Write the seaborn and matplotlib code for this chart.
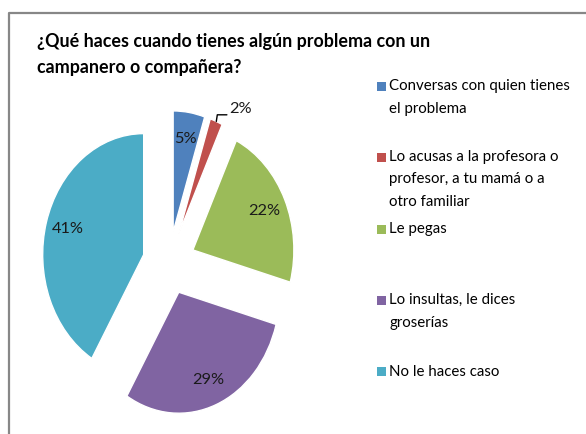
import matplotlib
matplotlib.use("Agg")
import matplotlib.pyplot as plt
from matplotlib.lines import Line2D
from matplotlib.patches import Rectangle
import numpy as np
import seaborn as sns

# =========================
# DATOS
# =========================

titulo = ["¿Qué haces cuando tienes algún problema con un",
          "campanero o compañera?"]

categorias = ["Conversas con quien tienes\nel problema",
              "Lo acusas a la profesora o\nprofesor, a tu mamá o a\notro familiar",
              "Le pegas",
              "Lo insultas, le dices\ngroserías",
              "No le haces caso"]

porcentajes = [5, 2, 22, 29, 41]

colores = ["#4F81BD", "#C0504D", "#9BBB59", "#8064A2", "#4BACC6"]

# =========================
# ESTILO
# =========================

sns.set_style("white")
plt.rcParams["font.family"] = ["Lato", "DejaVu Sans"]

W, H = 586, 434
fig = plt.figure(figsize=(W / 100, H / 100), dpi=100)
renderer = fig.canvas.get_renderer()


def fx(px):
    return px / W


def fy(py):
    return 1 - py / H


def ajustar(texto, ancho_px):
    # ajusta el tamaño de letra para que el texto ocupe el ancho del original
    ancho = texto.get_window_extent(renderer=renderer).width
    return texto.get_fontsize() * ancho_px / ancho


# marco gris del gráfico
fig.add_artist(Line2D([fx(9), fx(9), fx(600)], [fy(440), fy(12.5), fy(12.5)],
                      color="#878787", lw=1.6, transform=fig.transFigure))

# =========================
# TÍTULO
# =========================

t1 = fig.text(fx(37), fy(47.5), titulo[0], fontsize=13, fontweight="bold",
              va="baseline", ha="left", color="#000000")
t2 = fig.text(fx(37), fy(73), titulo[1], fontsize=13, fontweight="bold",
              va="baseline", ha="left", color="#000000")
tam_titulo = ajustar(t1, 392)
t1.set_fontsize(tam_titulo)
t2.set_fontsize(tam_titulo)

# =========================
# PASTEL
# =========================

# centro (169, 263) px; radio 101 px en x y 121 px en y
ax = fig.add_axes([fx(169 - 1.6 * 101), fy(263 + 1.4 * 121),
                   3.2 * 101 / W, 2.8 * 121 / H])

wedges, texts, autotexts = ax.pie(
    porcentajes,
    colors=sns.color_palette(colores),
    startangle=90,
    counterclock=False,
    explode=[0.26] * len(porcentajes),
    autopct="%1.0f%%",
    pctdistance=0.78,
    textprops={"fontsize": 12, "color": "#1a1a1a"},
)
ax.set_aspect("auto")
ax.set_xlim(-1.6, 1.6)
ax.set_ylim(-1.4, 1.4)
ax.axis("off")

tam_pct = ajustar(autotexts[4], 32)
for t in autotexts:
    t.set_fontsize(tam_pct)

# etiqueta del 2% fuera del sector, con línea guía
w = wedges[1]
m = np.deg2rad((w.theta1 + w.theta2) / 2)
x0 = w.center[0] + w.r * np.cos(m)
y0 = w.center[1] + w.r * np.sin(m)
x1, y1 = x0 + 0.01, y0 + 0.055
x2 = x1 + 0.095
ax.plot([x0, x1, x2], [y0, y1, y1], color="#000000", lw=1.0)
autotexts[1].set_position((x2 + 0.02, y1 + 0.045))
autotexts[1].set_ha("left")
autotexts[1].set_va("center")

# =========================
# LEYENDA
# =========================

filas_y = [86, 157, 229, 300, 371.5]
textos_leyenda = []
for cat, col, y in zip(categorias, colores, filas_y):
    fig.add_artist(Rectangle((fx(377), fy(y + 4.5)), 9 / W, 9 / H,
                             facecolor=col, edgecolor="none",
                             transform=fig.transFigure))
    for i, linea in enumerate(cat.split("\n")):
        textos_leyenda.append(
            fig.text(fx(389), fy(y + 22.5 * i), linea, fontsize=11,
                     va="center", ha="left", color="#000000"))

tam_leyenda = ajustar(textos_leyenda[0], 180)
for t in textos_leyenda:
    t.set_fontsize(tam_leyenda)

fig.savefig("out.png", dpi=100)
